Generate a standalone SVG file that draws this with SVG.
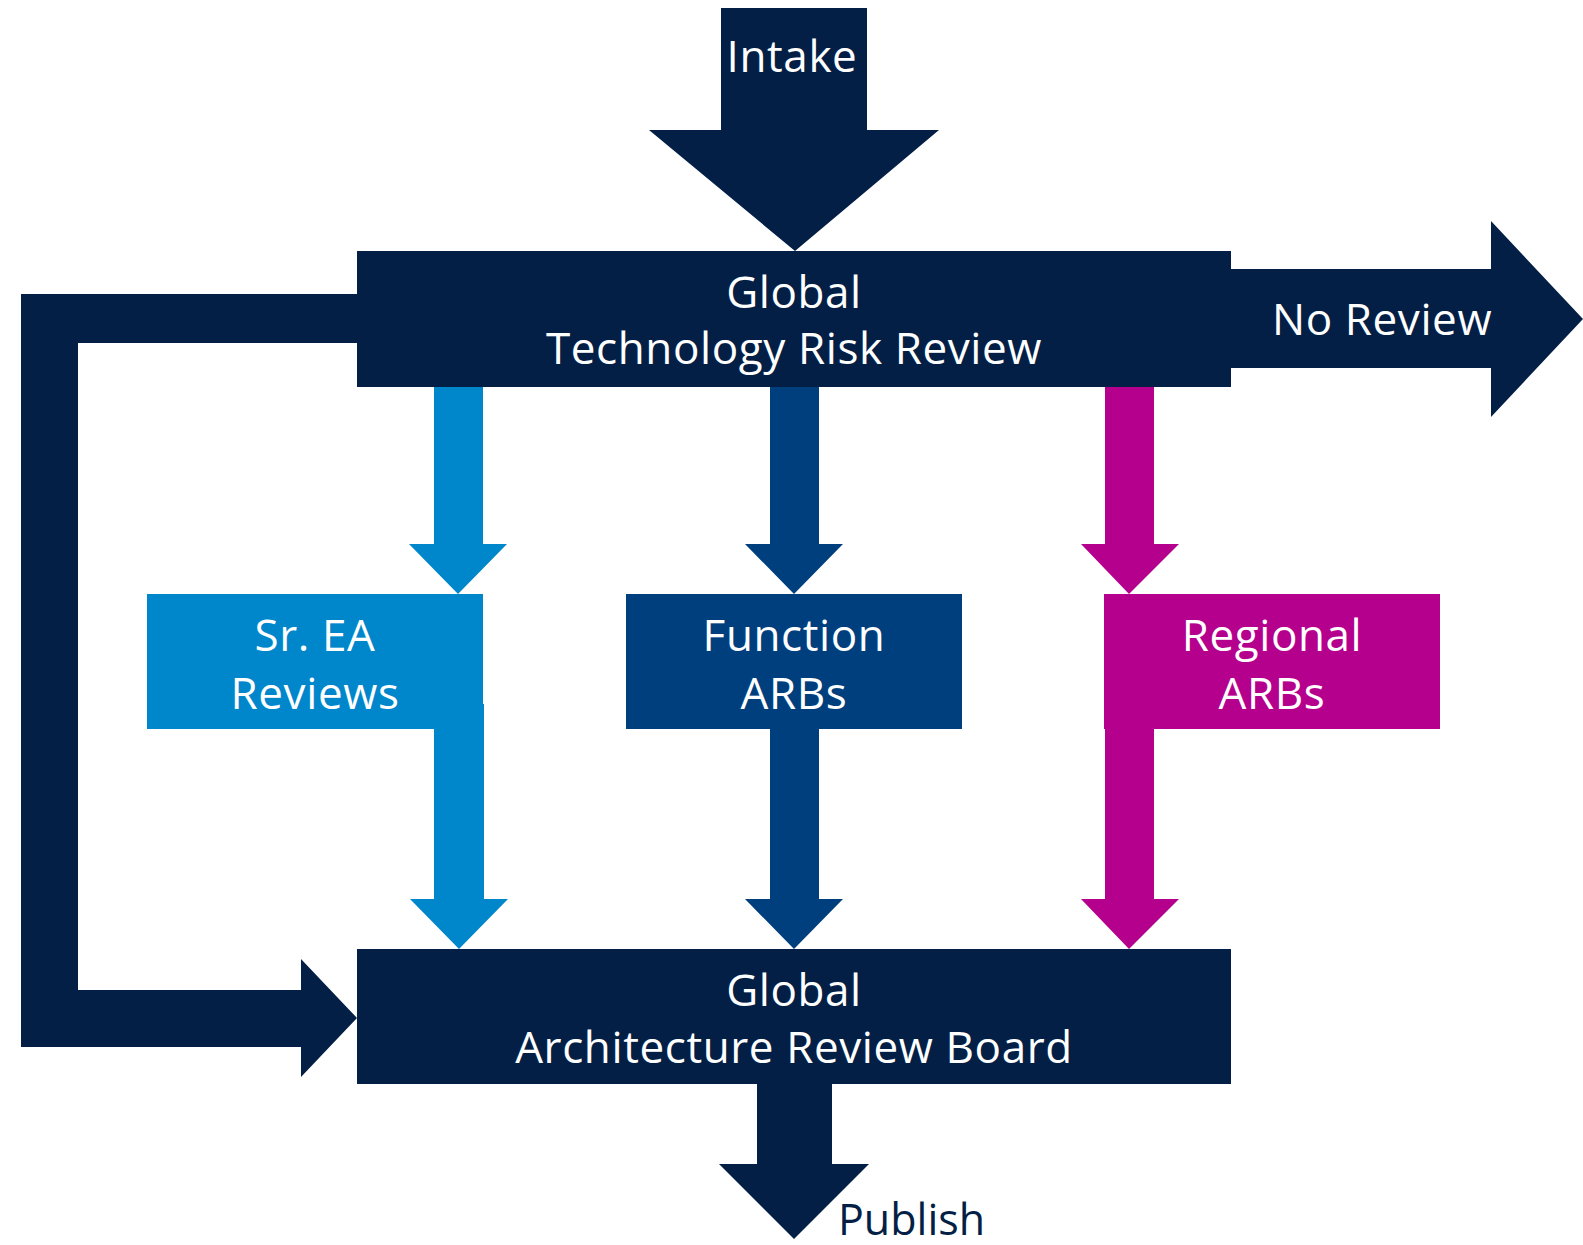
<svg xmlns="http://www.w3.org/2000/svg" width="1583" height="1245" viewBox="0 0 1583 1245">
<style>
.t{font-family:"Open Sans","Noto Sans","Liberation Sans",sans-serif;font-size:44px;letter-spacing:0.6px;fill:#ffffff;text-anchor:middle}
.pub{font-family:"Open Sans","Noto Sans","Liberation Sans",sans-serif;font-size:43px;fill:#031f46}
.navy{fill:#031f46}
.lb{fill:#0086cb}
.fn{fill:#003f7e}
.mg{fill:#b5008e}
</style>
<rect width="1583" height="1245" fill="#ffffff"/>
<g id="connectors">
  <polygon id="intake" class="navy" points="721,8 867,8 867,130 939,130 795,251 649,130 721,130"/>
  <text class="t" x="792" y="72">Intake</text>
  <polygon id="no-review" class="navy" points="1229,269 1491,269 1491,221 1583,319 1491,417 1491,368 1229,368"/>
  <text class="t" x="1382" y="335">No Review</text>
  <polygon id="loop" class="navy" points="359,294 21,294 21,1047 301,1047 301,1077 357,1018 301,959 301,990 78,990 78,343 359,343"/>
  <polygon id="a-sr-top" class="lb" points="434,385 483,385 483,544 507,544 458,594 409,544 434,544"/>
  <polygon id="a-fn-top" class="fn" points="770,385 819,385 819,544 843,544 794,594 745,544 770,544"/>
  <polygon id="a-rg-top" class="mg" points="1105,385 1154,385 1154,544 1179,544 1129,594 1081,544 1105,544"/>
  <polygon id="a-sr-bot" class="lb" points="434,704 484,704 484,899 508,899 459,949 410,899 434,899"/>
  <polygon id="a-fn-bot" class="fn" points="770,727 819,727 819,899 843,899 794,949 745,899 770,899"/>
  <polygon id="a-rg-bot" class="mg" points="1105,727 1154,727 1154,899 1179,899 1129,949 1081,899 1105,899"/>
  <polygon id="publish" class="navy" points="757,1082 832,1082 832,1164 869,1164 794,1239 719,1164 757,1164"/>
  <text class="pub" x="838" y="1235">Publish</text>
</g>
<g id="tech-risk-review">
  <rect class="navy" x="357" y="251" width="874" height="136"/>
  <text class="t" x="794" y="308">Global</text>
  <text class="t" x="794" y="364">Technology Risk Review</text>
</g>
<g id="sr-ea-reviews">
  <rect class="lb" x="147" y="594" width="336" height="135"/>
  <text class="t" x="315" y="651">Sr. EA</text>
  <text class="t" x="315" y="709">Reviews</text>
</g>
<g id="function-arbs">
  <rect class="fn" x="626" y="594" width="336" height="135"/>
  <text class="t" x="794" y="651">Function</text>
  <text class="t" x="794" y="709">ARBs</text>
</g>
<g id="regional-arbs">
  <rect class="mg" x="1104" y="594" width="336" height="135"/>
  <text class="t" x="1272" y="651">Regional</text>
  <text class="t" x="1272" y="709">ARBs</text>
</g>
<g id="global-arb">
  <rect class="navy" x="357" y="949" width="874" height="135"/>
  <text class="t" x="794" y="1006">Global</text>
  <text class="t" x="794" y="1063">Architecture Review Board</text>
</g>
</svg>
